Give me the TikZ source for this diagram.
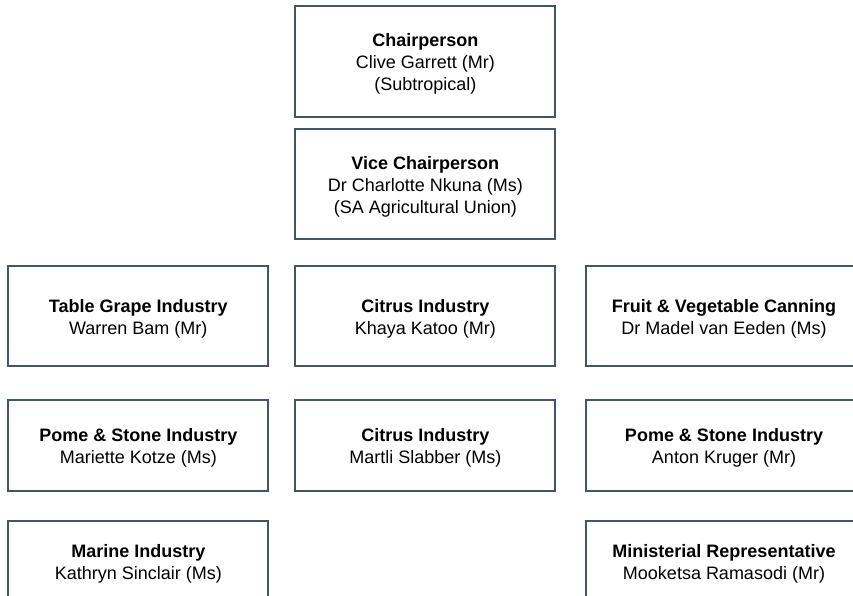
\documentclass[tikz,border=0pt]{standalone}
\usepackage{fontspec}
\setmainfont{Liberation Sans}
\usepackage{tikz}
\usetikzlibrary{positioning}

\definecolor{boxline}{RGB}{68,84,106}
\newcommand{\roletitle}[1]{\rule{0pt}{18pt}\textbf{#1}}

\begin{document}
\begin{tikzpicture}
	[x=1pt, y=-1pt, on grid,
	 member/.style={draw=boxline, line width=2pt, inner sep=0pt, align=center,
	   minimum width=260pt, minimum height=#1,
	   font=\fontsize{18}{22}\selectfont},
	 wide/.style={minimum width=276pt}]
   \useasboundingbox (0,0) rectangle (853,596);
   \node[member=111pt] (chair) at (425.3,61.5)
      {\roletitle{Chairperson}\\Clive Garrett (Mr)\\(Subtropical)};
   \node[member=110pt] (vice) [below=122.5pt of chair]
      {\roletitle{Vice Chairperson}\\Dr Charlotte Nkuna (Ms)\\(SA Agricultural Union)};
   % third row
   \node[member=100pt] (r3_m) [below=132pt of vice]
      {\roletitle{Citrus Industry}\\Khaya Katoo (Mr)};
   \node[member=100pt] (r3_l) [left=287pt of r3_m]
      {\roletitle{Table Grape Industry}\\Warren Bam (Mr)};
   \node[member=100pt, wide] (r3_r) [right=298.7pt of r3_m]
      {\roletitle{Fruit \& Vegetable Canning}\\Dr Madel van Eeden (Ms)};
   % fourth row
   \node[member=91pt] (r4_m) [below=129pt of r3_m]
      {\roletitle{Citrus Industry}\\Martli Slabber (Ms)};
   \node[member=91pt] (r4_l) [left=287pt of r4_m]
      {\roletitle{Pome \& Stone Industry}\\Mariette Kotze (Ms)};
   \node[member=91pt, wide] (r4_r) [right=298.7pt of r4_m]
      {\roletitle{Pome \& Stone Industry}\\Anton Kruger (Mr)};
   % fifth row
   \node[member=80pt] (r5_l) [below=116pt of r4_l]
      {\roletitle{Marine Industry}\\Kathryn Sinclair (Ms)};
   \node[member=80pt, wide] (r5_r) [below=116pt of r4_r]
      {\roletitle{Ministerial Representative}\\Mooketsa Ramasodi (Mr)};
\end{tikzpicture}
\end{document}
